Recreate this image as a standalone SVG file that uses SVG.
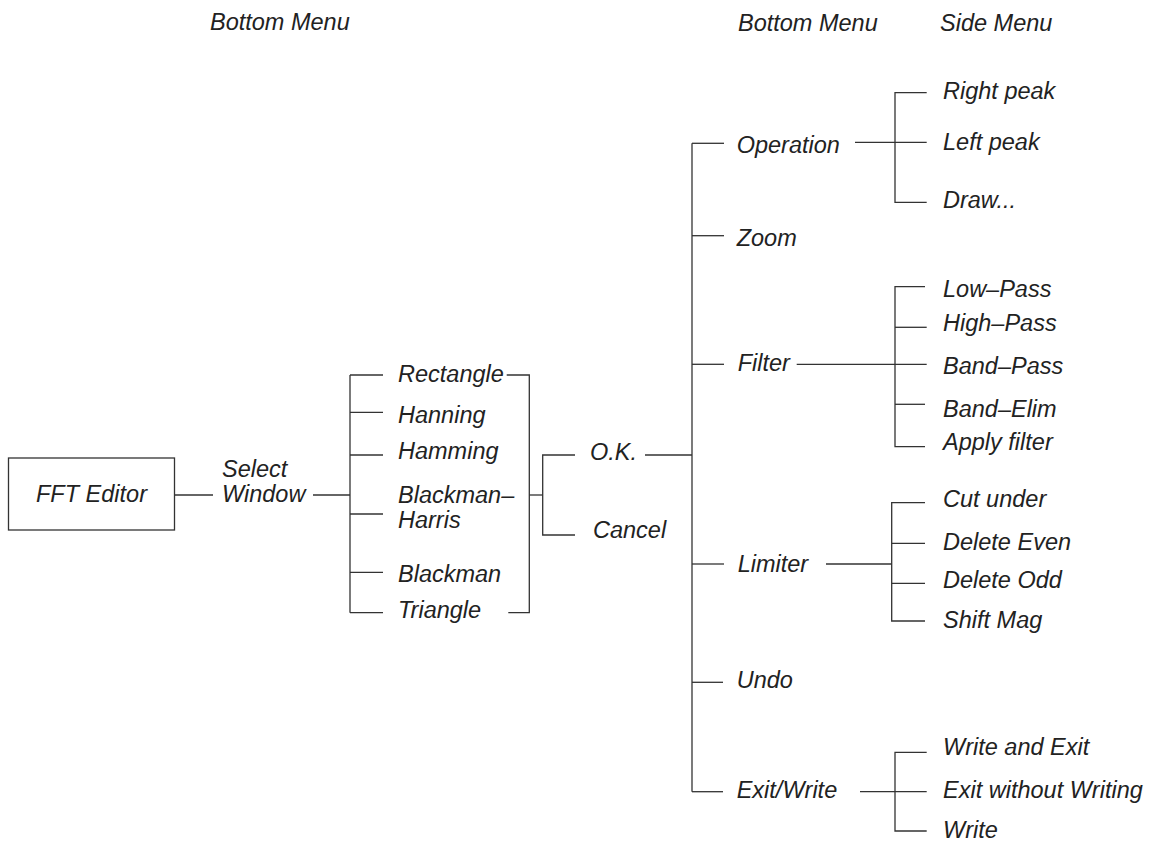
<svg xmlns="http://www.w3.org/2000/svg" width="1151" height="843" viewBox="0 0 1151 843">
<style>
text{font-family:"Liberation Sans",Arial,sans-serif;font-style:italic;font-size:23.5px;fill:#222}
.c line,.c path{stroke:#333;stroke-width:1.3;fill:none}
rect.box{fill:#fff;stroke:#333;stroke-width:1.3}
</style>
<rect width="1151" height="843" fill="#fff"/>
<g id="headers">
<text x="210" y="30">Bottom Menu</text>
<text x="738" y="30.5">Bottom Menu</text>
<text x="940" y="30.5">Side Menu</text>
</g>
<g class="c" id="connectors">
<line x1="174" y1="495" x2="213" y2="495"/>
<line x1="313" y1="495" x2="350" y2="495"/>
<line x1="350" y1="375" x2="350" y2="612.7"/>
<line x1="350" y1="375" x2="383" y2="375"/>
<line x1="350" y1="412.3" x2="383" y2="412.3"/>
<line x1="350" y1="455" x2="383" y2="455"/>
<line x1="350" y1="514" x2="383" y2="514"/>
<line x1="350" y1="572.3" x2="383" y2="572.3"/>
<line x1="350" y1="612.7" x2="383" y2="612.7"/>
<path d="M506.7 375H529.3V612.7H508.3"/>
<line x1="529.3" y1="495" x2="542.7" y2="495"/>
<path d="M575 455H542.7V535H575"/>
<line x1="645" y1="455" x2="692" y2="455"/>
<line x1="692" y1="143.3" x2="692" y2="791.7"/>
<line x1="692" y1="143.3" x2="724" y2="143.3"/>
<line x1="692" y1="235.7" x2="724" y2="235.7"/>
<line x1="692" y1="364.3" x2="724" y2="364.3"/>
<line x1="692" y1="564" x2="724" y2="564"/>
<line x1="692" y1="682.3" x2="723" y2="682.3"/>
<line x1="692" y1="791.7" x2="723" y2="791.7"/>
<line x1="855" y1="142.3" x2="926.7" y2="142.3"/>
<path d="M926.7 92.7H895V202.3H926.7"/>
<line x1="796.7" y1="364.3" x2="926.7" y2="364.3"/>
<path d="M925 286.7H895V446.7H925"/>
<line x1="895" y1="327.3" x2="926.7" y2="327.3"/>
<line x1="895" y1="404.3" x2="925" y2="404.3"/>
<line x1="826" y1="564" x2="891.7" y2="564"/>
<path d="M925 502.7H891.7V621H925"/>
<line x1="891.7" y1="543.3" x2="925" y2="543.3"/>
<line x1="891.7" y1="583.3" x2="925" y2="583.3"/>
<line x1="860" y1="791.7" x2="926.7" y2="791.7"/>
<path d="M926.7 752.3H895V831H926.7"/>
</g>
<g id="fft-editor">
<rect class="box" x="8.5" y="458" width="166" height="72"/>
<text x="36" y="502">FFT Editor</text>
</g>
<g id="select-window">
<text x="222" y="477">Select</text>
<text x="222" y="502">Window</text>
</g>
<g id="rectangle"><text x="398" y="381.7">Rectangle</text></g>
<g id="hanning"><text x="398" y="423.3">Hanning</text></g>
<g id="hamming"><text x="398" y="459.3">Hamming</text></g>
<g id="blackman-harris"><text x="398" y="502.7">Blackman–</text><text x="398" y="528.3">Harris</text></g>
<g id="blackman"><text x="398" y="581.7">Blackman</text></g>
<g id="triangle"><text x="398" y="618.3">Triangle</text></g>
<g id="ok"><text x="590" y="460">O.K.</text></g>
<g id="cancel"><text x="593" y="538.3">Cancel</text></g>
<g id="operation"><text x="736.7" y="153.3">Operation</text></g>
<g id="zoom"><text x="736.7" y="245.7">Zoom</text></g>
<g id="filter"><text x="737.7" y="370.7">Filter</text></g>
<g id="limiter"><text x="737.7" y="571.7">Limiter</text></g>
<g id="undo"><text x="736.7" y="688.3">Undo</text></g>
<g id="exit-write"><text x="736.7" y="798.3">Exit/Write</text></g>
<g id="right-peak"><text x="943" y="99.3">Right peak</text></g>
<g id="left-peak"><text x="943" y="150">Left peak</text></g>
<g id="draw"><text x="943" y="208.3">Draw...</text></g>
<g id="low-pass"><text x="943" y="296.7">Low–Pass</text></g>
<g id="high-pass"><text x="943" y="331">High–Pass</text></g>
<g id="band-pass"><text x="943" y="374">Band–Pass</text></g>
<g id="band-elim"><text x="943" y="416.7">Band–Elim</text></g>
<g id="apply-filter"><text x="943" y="450">Apply filter</text></g>
<g id="cut-under"><text x="943" y="506.7">Cut under</text></g>
<g id="delete-even"><text x="943" y="550">Delete Even</text></g>
<g id="delete-odd"><text x="943" y="588.3">Delete Odd</text></g>
<g id="shift-mag"><text x="943" y="628.3">Shift Mag</text></g>
<g id="write-and-exit"><text x="943" y="755">Write and Exit</text></g>
<g id="exit-without-writing"><text x="943" y="798.3">Exit without Writing</text></g>
<g id="write"><text x="943" y="838.3">Write</text></g>
</svg>
